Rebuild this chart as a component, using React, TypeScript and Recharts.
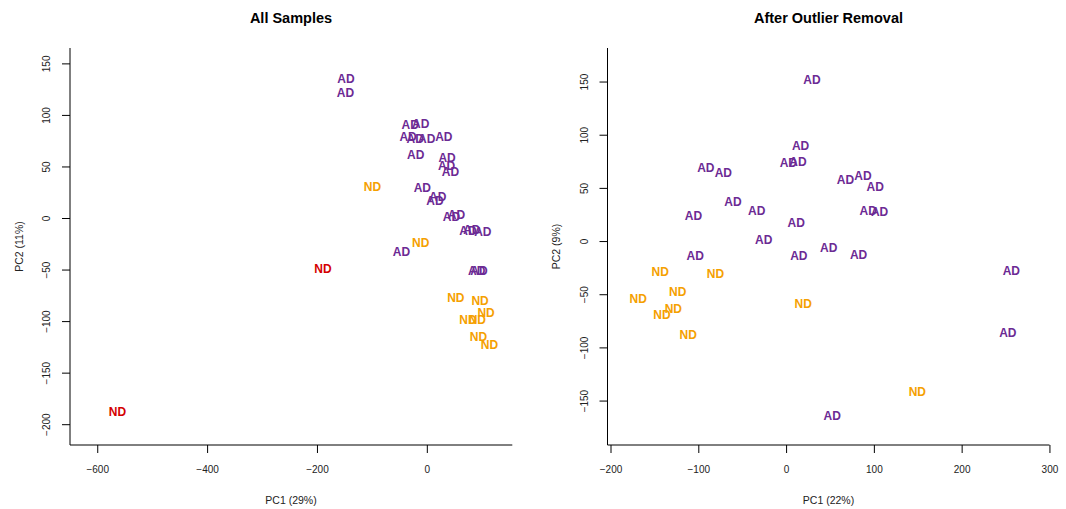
import { ScatterChart, Scatter, XAxis, YAxis } from "recharts";

// All samples (PC1 / PC2)
const allAdX = [-148, -149, -31, -12, -35, -22, -1, 30, -21, 36, 35, 42, -9, 19, 14, 53, 44, 81, 74, 101, -47, 90, 94];
const allAdY = [137, 123, 92, 93, 81, 79, 79, 81, 63, 60, 52, 47, 31, 22, 18, 5, 3, -10, -11, -12, -31, -49, -49];
const allNdX = [-100, -12, 52, 96, 107, 74, 91, 93, 113];
const allNdY = [32, -22, -76, -79, -90, -97, -97, -113, -121];
const outlierX = [-190, -564];
const outlierY = [-48, -186];

// after outlier removal
const cleanAdX = [29, 16, 2, 13, -92, -72, 67, 87, 101, -61, -34, 93, 106, -106, 11, -26, 48, -104, 14, 82, 256, 252, 52];
const cleanAdY = [153, 91, 75, 76, 71, 66, 59, 63, 53, 39, 30, 30, 29, 25, 19, 3, -5, -12, -12, -11, -26, -85, -163];
const cleanNdX = [-144, -81, -124, -169, -129, -142, -112, 19, 149];
const cleanNdY = [-27, -29, -46, -53, -62, -68, -86, -57, -140];

const leftXTicks = [-600, -400, -200, 0];
const leftYTicks = [-200, -150, -100, -50, 0, 50, 100, 150];
const rightXTicks = [-200, -100, 0, 100, 200, 300];
const rightYTicks = [-150, -100, -50, 0, 50, 100, 150];

const PURPLE = "#6C2A94";
const ORANGE = "#F5A000";
const RED = "#D40000";
const FONT = "'Liberation Sans', Arial, sans-serif";

const toPoints = (xs: number[], ys: number[], label: string) =>
  xs.map((x, i) => ({ x, y: ys[i], label }));

const fmt = (v: number) => String(v).replace("-", "\u2212");

const labelShape = (color: string) => (props: any) => (
  <text
    x={props.cx}
    y={props.cy}
    dy={1.5}
    textAnchor="middle"
    dominantBaseline="central"
    fill={color}
    fontWeight="bold"
    fontSize={12}
    fontFamily={FONT}
  >
    {props.payload.label}
  </text>
);

const XTick = ({ x, y, payload }: any) => (
  <text x={x} y={y} textAnchor="middle" dominantBaseline="central" fontSize={10} fontFamily={FONT} fill="#222">
    {fmt(payload.value)}
  </text>
);

const YTick = ({ x, y, payload }: any) => (
  <text
    x={x}
    y={y}
    transform={`rotate(-90 ${x} ${y})`}
    textAnchor="middle"
    dominantBaseline="central"
    fontSize={10}
    fontFamily={FONT}
    fill="#222"
  >
    {fmt(payload.value)}
  </text>
);

type PanelProps = {
  yAxisWidth: number;
  right: number;
  xDomain: [number, number];
  yDomain: [number, number];
  xTicks: number[];
  yTicks: number[];
  series: { data: any[]; color: string }[];
};

function Panel({ yAxisWidth, right, xDomain, yDomain, xTicks, yTicks, series }: PanelProps) {
  return (
    <ScatterChart width={533} height={509} margin={{ top: 48, right, left: 0, bottom: 0 }}>
      <XAxis
        type="number"
        dataKey="x"
        domain={xDomain}
        ticks={xTicks}
        allowDataOverflow
        height={64}
        tickSize={8}
        tickMargin={16}
        tick={<XTick />}
        axisLine={{ stroke: "#000" }}
        tickLine={{ stroke: "#000" }}
      />
      <YAxis
        type="number"
        dataKey="y"
        domain={yDomain}
        ticks={yTicks}
        allowDataOverflow
        width={yAxisWidth}
        tickSize={8}
        tickMargin={15}
        tick={<YTick />}
        axisLine={{ stroke: "#000" }}
        tickLine={{ stroke: "#000" }}
      />
      {series.map((s, i) => (
        <Scatter key={i} data={s.data} shape={labelShape(s.color)} isAnimationActive={false} />
      ))}
    </ScatterChart>
  );
}

export default function App() {
  return (
    <div style={{ position: "absolute", left: 0, top: 0, width: 1066, height: 509, background: "#fff" }}>
      <div style={{ position: "absolute", left: 0, top: 0 }}>
        <Panel
          yAxisWidth={70}
          right={20.7}
          xDomain={[-650.5, 154.7]}
          yDomain={[-219.7, 165.4]}
          xTicks={leftXTicks}
          yTicks={leftYTicks}
          series={[
            { data: toPoints(allAdX, allAdY, "AD"), color: PURPLE },
            { data: toPoints(allNdX, allNdY, "ND"), color: ORANGE },
            { data: toPoints(outlierX, outlierY, "ND"), color: RED },
          ]}
        />
      </div>
      <div style={{ position: "absolute", left: 533, top: 0 }}>
        <Panel
          yAxisWidth={74.5}
          right={16.5}
          xDomain={[-204, 299.5]}
          yDomain={[-191.3, 182]}
          xTicks={rightXTicks}
          yTicks={rightYTicks}
          series={[
            { data: toPoints(cleanAdX, cleanAdY, "AD"), color: PURPLE },
            { data: toPoints(cleanNdX, cleanNdY, "ND"), color: ORANGE },
          ]}
        />
      </div>
      <svg width={1066} height={509} style={{ position: "absolute", left: 0, top: 0, pointerEvents: "none" }}>
        <g fontFamily={FONT} fill="#000" textAnchor="middle" dominantBaseline="central">
          <text x={291} y={17.5} fontSize={14.5} fontWeight="bold">All Samples</text>
          <text x={828.5} y={17.5} fontSize={14.5} fontWeight="bold">After Outlier Removal</text>
          <text x={291} y={500} fontSize={10.5} fill="#222">PC1 (29%)</text>
          <text x={828.5} y={500} fontSize={10.5} fill="#222">PC1 (22%)</text>
          <text x={19} y={246.5} fontSize={10.5} fill="#222" transform="rotate(-90 19 246.5)">PC2 (11%)</text>
          <text x={556} y={246.5} fontSize={10.5} fill="#222" transform="rotate(-90 556 246.5)">PC2 (9%)</text>
        </g>
      </svg>
    </div>
  );
}
